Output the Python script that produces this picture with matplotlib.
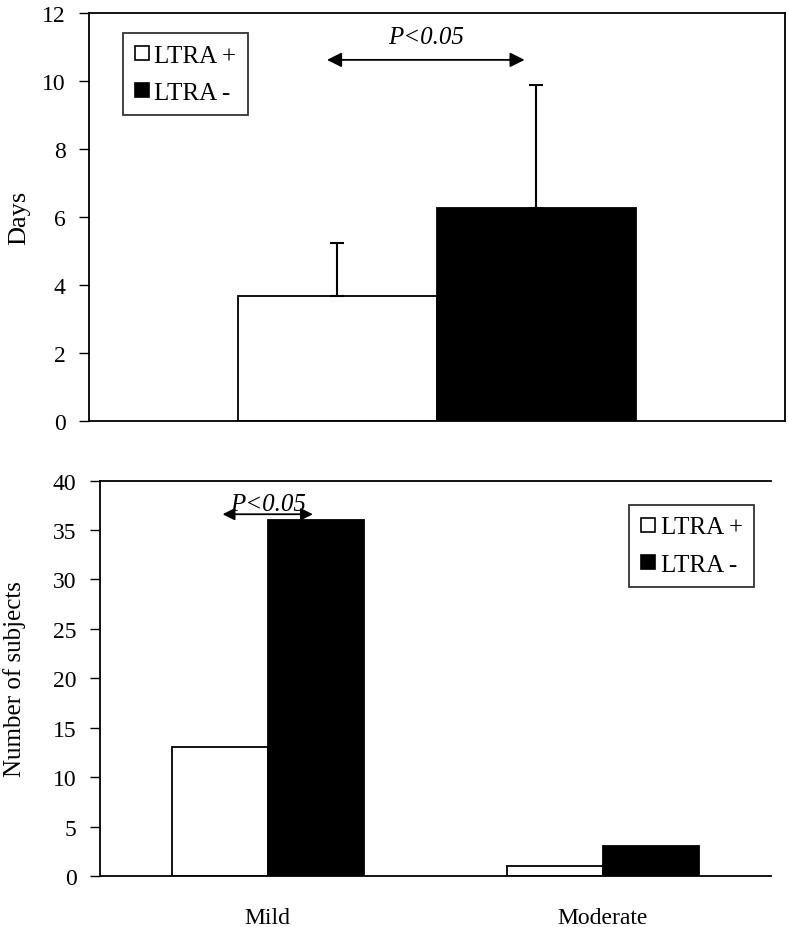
import matplotlib.pyplot as plt
from matplotlib.lines import Line2D

plt.rcParams['font.family'] = ['Liberation Serif', 'DejaVu Serif']

# top panel: days
series_names = ['LTRA +', 'LTRA -']
days_mean = [3.68, 6.28]
days_err = [1.56, 3.60]

# bottom panel: number of subjects
severity = ['Mild', 'Moderate']
subjects_pos = [13, 1]
subjects_neg = [36, 3]

colors = ['white', 'black']
w = 0.286

fig = plt.figure(figsize=(7.88, 9.28), dpi=100)
ax1 = fig.add_axes([0.113, 0.545, 0.883, 0.440])
ax2 = fig.add_axes([0.127, 0.055, 0.851, 0.426])

# Top chart
for i in range(2):
    x = (i - 0.5) * w
    ax1.bar(x, days_mean[i], width=w, color=colors[i], edgecolor='black', linewidth=1.3)
    ax1.errorbar(x, days_mean[i], yerr=[[0], [days_err[i]]], fmt='none',
                 ecolor='black', elinewidth=1.5, capsize=5, capthick=1.5)
ax1.set_xlim(-0.5, 0.5)
ax1.set_ylim(0, 12)
ax1.set_yticks(range(0, 13, 2))
ax1.set_xticks([])
ax1.set_ylabel('Days', fontsize=19)
ax1.yaxis.set_label_coords(-0.084, 0.5)
ax1.annotate('', xy=(0.13, 10.62), xytext=(-0.162, 10.62),
             arrowprops=dict(arrowstyle='<|-|>', color='black', lw=1.3, mutation_scale=22))
ax1.text(-0.015, 11.3, 'P<0.05', style='italic', fontsize=18, ha='center', va='center')
for s in ax1.spines.values():
    s.set_linewidth(1.3)

# Bottom chart
xs = range(len(severity))
ax2.bar([x - w / 2 for x in xs], subjects_pos, width=w, color='white', edgecolor='black', linewidth=1.3)
ax2.bar([x + w / 2 for x in xs], subjects_neg, width=w, color='black', edgecolor='black', linewidth=1.3)
ax2.set_xlim(-0.5, 1.5)
ax2.set_ylim(0, 40)
ax2.set_yticks(range(0, 41, 5))
ax2.set_xticks(list(xs))
ax2.set_xticklabels(severity, fontsize=17)
ax2.tick_params(axis='x', length=0, pad=22)
ax2.set_ylabel('Number of subjects', fontsize=18)
ax2.yaxis.set_label_coords(-0.11, 0.5)
ax2.spines['right'].set_visible(False)
ax2.annotate('', xy=(w / 2, 36.6), xytext=(-w / 2, 36.6),
             arrowprops=dict(arrowstyle='<|-|>', color='black', lw=1.3, mutation_scale=18))
ax2.text(0, 37.6, 'P<0.05', style='italic', fontsize=18, ha='center', va='center')
for s in ax2.spines.values():
    s.set_linewidth(1.3)

for ax in (ax1, ax2):
    ax.tick_params(axis='y', labelsize=17, direction='out', length=7, width=1, pad=10)

handles = [Line2D([], [], marker='s', linestyle='none', markerfacecolor=c,
                  markeredgecolor='black', markersize=10, markeredgewidth=1.2)
           for c in colors]

leg1 = ax1.legend(handles, series_names, loc='upper left', bbox_to_anchor=(0.049, 0.951),
                  borderaxespad=0, fontsize=18, frameon=True, fancybox=False, edgecolor='black',
                  handlelength=0.6, handletextpad=0.2, borderpad=0.45, labelspacing=0.6)
leg1.get_frame().set_linewidth(1.3)
leg2 = ax2.legend(handles, series_names, loc='upper right', bbox_to_anchor=(0.975, 0.939),
                  borderaxespad=0, fontsize=18, frameon=True, fancybox=False, edgecolor='black',
                  handlelength=0.6, handletextpad=0.2, borderpad=0.45, labelspacing=0.6)
leg2.get_frame().set_linewidth(1.3)

fig.savefig('out.png', dpi=100)
